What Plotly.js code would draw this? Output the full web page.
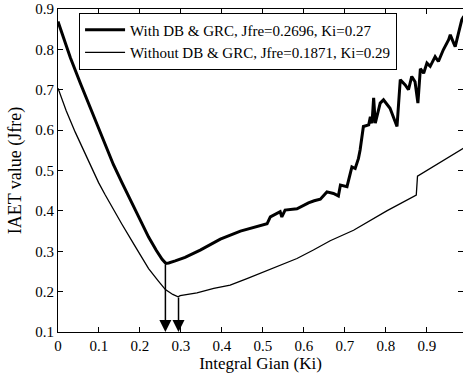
<!DOCTYPE html>
<html>
<head>
<meta charset="utf-8">
<script src="https://cdn.plot.ly/plotly-3.0.1.min.js"></script>
<style>html,body{margin:0;padding:0;background:#fff;}#chart{width:463px;height:373px;}</style>
</head>
<body>
<div id="chart"></div>
<script>
// With DB & GRC
const kiWith = [0, 0.015, 0.03, 0.055, 0.08, 0.103, 0.115, 0.135, 0.156, 0.189, 0.221, 0.24, 0.254, 0.263, 0.27, 0.286, 0.31, 0.347, 0.396, 0.445, 0.51, 0.518, 0.53, 0.542, 0.546, 0.554, 0.583, 0.611, 0.625, 0.64, 0.656, 0.672, 0.684, 0.689, 0.705, 0.717, 0.725, 0.733, 0.737, 0.745, 0.758, 0.762, 0.766, 0.77, 0.774, 0.786, 0.794, 0.81, 0.827, 0.835, 0.847, 0.855, 0.863, 0.871, 0.878, 0.884, 0.892, 0.9, 0.908, 0.92, 0.928, 0.94, 0.953, 0.957, 0.965, 0.969, 0.977, 0.985, 0.99];
const jWith = [0.869, 0.823, 0.78, 0.715, 0.652, 0.595, 0.563, 0.515, 0.47, 0.4, 0.335, 0.302, 0.28, 0.27, 0.271, 0.276, 0.285, 0.303, 0.33, 0.35, 0.368, 0.385, 0.392, 0.398, 0.385, 0.402, 0.405, 0.42, 0.425, 0.429, 0.447, 0.443, 0.437, 0.464, 0.46, 0.509, 0.505, 0.53, 0.551, 0.609, 0.613, 0.633, 0.617, 0.68, 0.617, 0.667, 0.675, 0.654, 0.609, 0.725, 0.712, 0.7, 0.733, 0.72, 0.667, 0.752, 0.741, 0.766, 0.758, 0.782, 0.77, 0.799, 0.824, 0.836, 0.816, 0.807, 0.84, 0.873, 0.882];
// Without DB & GRC
const kiWithout = [0, 0.02, 0.042, 0.075, 0.099, 0.115, 0.135, 0.156, 0.189, 0.221, 0.245, 0.262, 0.28, 0.293, 0.298, 0.339, 0.38, 0.42, 0.461, 0.501, 0.542, 0.583, 0.623, 0.664, 0.721, 0.778, 0.802, 0.874, 0.877, 0.989];
const jWithout = [0.704, 0.648, 0.595, 0.522, 0.47, 0.44, 0.403, 0.367, 0.311, 0.257, 0.226, 0.205, 0.193, 0.187, 0.19, 0.197, 0.208, 0.216, 0.232, 0.249, 0.265, 0.282, 0.303, 0.326, 0.352, 0.385, 0.4, 0.439, 0.486, 0.555];
const seriesNames = ['With DB & GRC, Jfre=0.2696, Ki=0.27', 'Without DB & GRC, Jfre=0.1871, Ki=0.29'];
// optimum markers (arrows)
const optKi = [0.262, 0.294];
const optJ = [0.27, 0.189];
const xTicks = [0, 0.1, 0.2, 0.3, 0.4, 0.5, 0.6, 0.7, 0.8, 0.9];
const yTicks = [0.1, 0.2, 0.3, 0.4, 0.5, 0.6, 0.7, 0.8, 0.9];

const FONT = "'Liberation Serif', serif";
const traces = [
  {x: kiWith, y: jWith, mode: 'lines', name: seriesNames[0], line: {color: '#000', width: 3}},
  {x: kiWithout, y: jWithout, mode: 'lines', name: seriesNames[1], line: {color: '#000', width: 1.3}}
];
const annotations = optKi.map((k, i) => ({
  x: k, y: 0.1, xref: 'x', yref: 'y', ax: k, ay: optJ[i], axref: 'x', ayref: 'y',
  showarrow: true, arrowhead: 2, arrowsize: 1.6, arrowwidth: 1.5, arrowcolor: '#000', text: '', standoff: 0
}));
const axisCommon = {
  showline: true, linecolor: '#000', linewidth: 1, mirror: 'ticks', ticks: 'inside', ticklen: 5,
  tickcolor: '#000', showgrid: false, zeroline: false, tickfont: {family: FONT, size: 15, color: '#000'}
};
const layout = {
  width: 463, height: 373,
  margin: {l: 58, r: 0, t: 9, b: 41},
  paper_bgcolor: '#fff', plot_bgcolor: '#fff',
  font: {family: FONT, color: '#000'},
  showlegend: true,
  legend: {x: 0.052, y: 0.989, xanchor: 'left', yanchor: 'top', bordercolor: '#000', borderwidth: 1,
    bgcolor: '#fff', font: {family: FONT, size: 15, color: '#000'}, itemwidth: 40, tracegroupgap: 0},
  xaxis: Object.assign({}, axisCommon, {range: [0, 0.988], tickvals: xTicks, ticktext: xTicks.map(String),
    title: {text: 'Integral Gian (Ki)', font: {family: FONT, size: 17, color: '#000'}, standoff: 6}}),
  yaxis: Object.assign({}, axisCommon, {range: [0.1, 0.9], tickvals: yTicks, ticktext: yTicks.map(String),
    title: {text: 'IAET value (Jfre)', font: {family: FONT, size: 18, color: '#000'}, standoff: 8}}),
  annotations: annotations
};
Plotly.newPlot('chart', traces, layout, {displayModeBar: false, staticPlot: true});
</script>
</body>
</html>
